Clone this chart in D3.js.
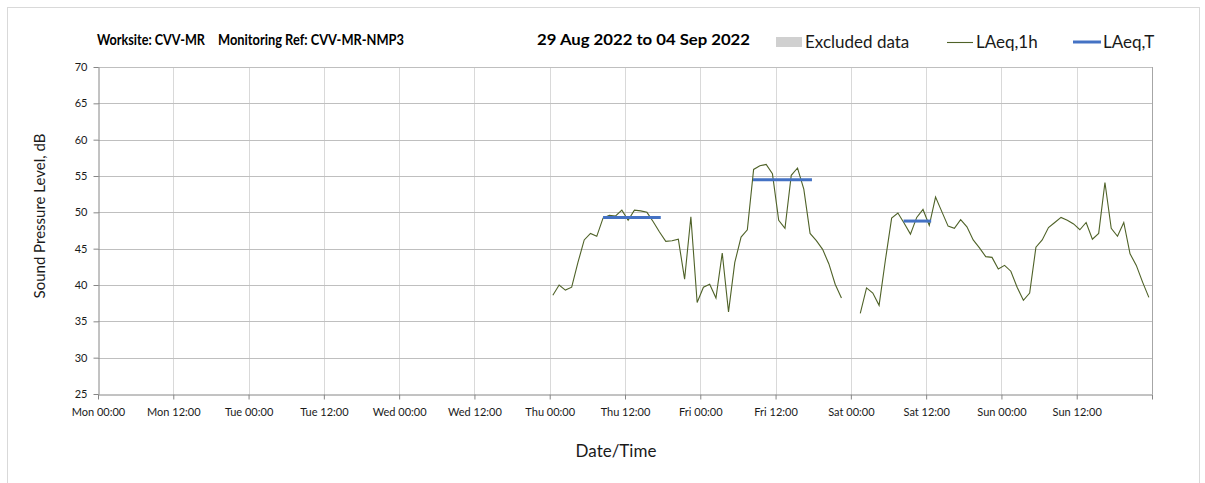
<!DOCTYPE html>
<html>
<head>
<meta charset="utf-8">
<script src="https://cdn.jsdelivr.net/npm/d3@7"></script>
<style>
  body { margin: 0; background: #fff; }
  svg { font-family: Lato, "Open Sans", sans-serif; }
</style>
</head>
<body>
<svg id="chart" width="1205" height="483"></svg>
<script>
// hours counted from Mon 29 Aug 2022 00:00
var xTickHours = [0, 12, 24, 36, 48, 60, 72, 84, 96, 108, 120, 132, 144, 156];
var xTickLabels = ["Mon 00:00", "Mon 12:00", "Tue 00:00", "Tue 12:00", "Wed 00:00", "Wed 12:00",
                   "Thu 00:00", "Thu 12:00", "Fri 00:00", "Fri 12:00", "Sat 00:00", "Sat 12:00",
                   "Sun 00:00", "Sun 12:00"];
var yTicks = [25, 30, 35, 40, 45, 50, 55, 60, 65, 70];

// LAeq,1h - first run of hourly values (Thu -> Fri)
var run1Start = 72.5;
var run1Values = [38.6, 40.0, 39.3, 39.7, 43.1, 46.2, 47.1, 46.7, 49.2, 49.6,
                  49.5, 50.3, 48.9, 50.3, 50.2, 50.0, 48.7, 47.3, 46.0, 46.1,
                  46.3, 40.8, 49.4, 37.6, 39.7, 40.1, 38.2, 44.4, 36.3, 43.1,
                  46.6, 47.6, 55.9, 56.4, 56.6, 55.3, 48.9, 47.8, 55.1, 56.1,
                  53.2, 47.1, 46.1, 44.9, 42.9, 40.1, 38.2];
// LAeq,1h - second run (Sat -> Sun)
var run2Start = 121.5;
var run2Values = [36.1, 39.6, 38.9, 37.2, 43.4, 49.2, 49.9, 48.5, 47.0, 49.3,
                  50.4, 48.2, 52.1, 50.1, 48.1, 47.8, 49.0, 48.0, 46.2, 45.1,
                  43.9, 43.8, 42.2, 42.7, 41.9, 39.7, 37.9, 38.9, 45.2, 46.2,
                  47.9, 48.6, 49.3, 48.9, 48.4, 47.6, 48.6, 46.3, 47.1, 54.1,
                  47.8, 46.7, 48.6, 44.3, 42.7, 40.4, 38.3];

// LAeq,T periods
var periodFrom = [80.5, 104.4, 128.4];
var periodTo = [89.7, 113.8, 132.8];
var periodLevel = [49.3, 54.5, 48.8];

var svg = d3.select("#chart");
var plot = { left: 98, right: 1152, top: 67, bottom: 394 };

// outer frame
svg.append("rect")
    .attr("x", 7.5).attr("y", 7.5)
    .attr("width", 1192).attr("height", 480)
    .attr("fill", "none")
    .attr("stroke", "#d9d9d9");

var xScale = d3.scaleLinear()
    .domain([0, 168])
    .range([plot.left, plot.right]);

var yScale = d3.scaleLinear()
    .domain([25, 70])
    .range([plot.bottom, plot.top]);

// grid
svg.append("g")
  .selectAll("line")
  .data(xTickHours.concat([168]).slice(1))
  .enter().append("line")
    .attr("x1", d => Math.round(xScale(d)) + 0.5)
    .attr("x2", d => Math.round(xScale(d)) + 0.5)
    .attr("y1", plot.top)
    .attr("y2", plot.bottom)
    .attr("stroke", d => d === 168 ? "#a6a6a6" : "#d9d9d9");

svg.append("g")
  .selectAll("line")
  .data(yTicks.slice(1))
  .enter().append("line")
    .attr("x1", plot.left)
    .attr("x2", plot.right)
    .attr("y1", d => Math.round(yScale(d)) + 0.5)
    .attr("y2", d => Math.round(yScale(d)) + 0.5)
    .attr("stroke", "#bfbfbf");

// axes
var xAxis = d3.axisBottom(xScale)
    .tickValues(xTickHours.concat([168]))
    .tickSize(5)
    .tickSizeOuter(0)
    .tickFormat((d, i) => xTickLabels[i] || "");

var gx = svg.append("g")
    .attr("transform", "translate(0," + (Math.round(plot.bottom) + 0.5) + ")")
    .call(xAxis);

var yAxis = d3.axisLeft(yScale)
    .tickValues(yTicks)
    .tickSize(5)
    .tickSizeOuter(0);

var gy = svg.append("g")
    .attr("transform", "translate(" + (plot.left + 0.5) + ",0)")
    .call(yAxis);

[gx, gy].forEach(function(g) {
  g.select(".domain").attr("stroke", "#868686");
  g.selectAll(".tick line").attr("stroke", "#868686");
  g.selectAll(".tick text")
      .attr("fill", "#1a1a1a")
      .style("font-family", "Lato, sans-serif");
});
gx.selectAll(".tick text").attr("dy", "1.25em").style("font-size", "11px");
gy.selectAll(".tick text").attr("x", -11).style("font-size", "11px");

// LAeq,1h line
var hourly = run1Values.map((v, i) => ({ t: run1Start + i, v: v }))
    .concat([{ t: null, v: null }])
    .concat(run2Values.map((v, i) => ({ t: run2Start + i, v: v })));

var line = d3.line()
    .defined(d => d.v !== null)
    .x(d => xScale(d.t))
    .y(d => yScale(d.v));

svg.append("path")
    .datum(hourly)
    .attr("d", line)
    .attr("fill", "none")
    .attr("stroke", "#4f6228")
    .attr("stroke-width", 1.1);

// LAeq,T segments
svg.append("g")
  .selectAll("line")
  .data(periodLevel)
  .enter().append("line")
    .attr("x1", (d, i) => xScale(periodFrom[i]))
    .attr("x2", (d, i) => xScale(periodTo[i]))
    .attr("y1", d => yScale(d))
    .attr("y2", d => yScale(d))
    .attr("stroke", "#4472c4")
    .attr("stroke-width", 3);

// title
var title = svg.append("g")
    .style("font-weight", "bold")
    .style("font-size", "15px")
    .attr("fill", "#000");
title.append("text").attr("x", 97).attr("y", 45)
    .attr("textLength", 108).attr("lengthAdjust", "spacingAndGlyphs")
    .text("Worksite: CVV-MR");
title.append("text").attr("x", 218).attr("y", 45)
    .attr("textLength", 186).attr("lengthAdjust", "spacingAndGlyphs")
    .text("Monitoring Ref: CVV-MR-NMP3");
title.append("text").attr("x", 537).attr("y", 45)
    .attr("textLength", 213).attr("lengthAdjust", "spacingAndGlyphs")
    .text("29 Aug 2022 to 04 Sep 2022");

// legend
var legend = svg.append("g").style("font-size", "17px").attr("fill", "#1a1a1a");
legend.append("rect")
    .attr("x", 776).attr("y", 37).attr("width", 26).attr("height", 10)
    .attr("fill", "#d0d0d0");
legend.append("text").attr("x", 805).attr("y", 48).text("Excluded data");
legend.append("line")
    .attr("x1", 947).attr("x2", 973).attr("y1", 42.5).attr("y2", 42.5)
    .attr("stroke", "#4f6228").attr("stroke-width", 1.1);
legend.append("text").attr("x", 976).attr("y", 48).text("LAeq,1h");
legend.append("line")
    .attr("x1", 1073).attr("x2", 1101).attr("y1", 42).attr("y2", 42)
    .attr("stroke", "#4472c4").attr("stroke-width", 3);
legend.append("text").attr("x", 1103).attr("y", 48).text("LAeq,T");

// axis titles
svg.append("text")
    .attr("transform", "rotate(-90)")
    .attr("x", -216)
    .attr("y", 45)
    .style("text-anchor", "middle")
    .style("font-size", "15px")
    .attr("fill", "#1a1a1a")
    .text("Sound Pressure Level, dB");

svg.append("text")
    .attr("x", 616)
    .attr("y", 457)
    .style("text-anchor", "middle")
    .style("font-size", "17px")
    .attr("fill", "#1a1a1a")
    .text("Date/Time");
</script>
</body>
</html>
